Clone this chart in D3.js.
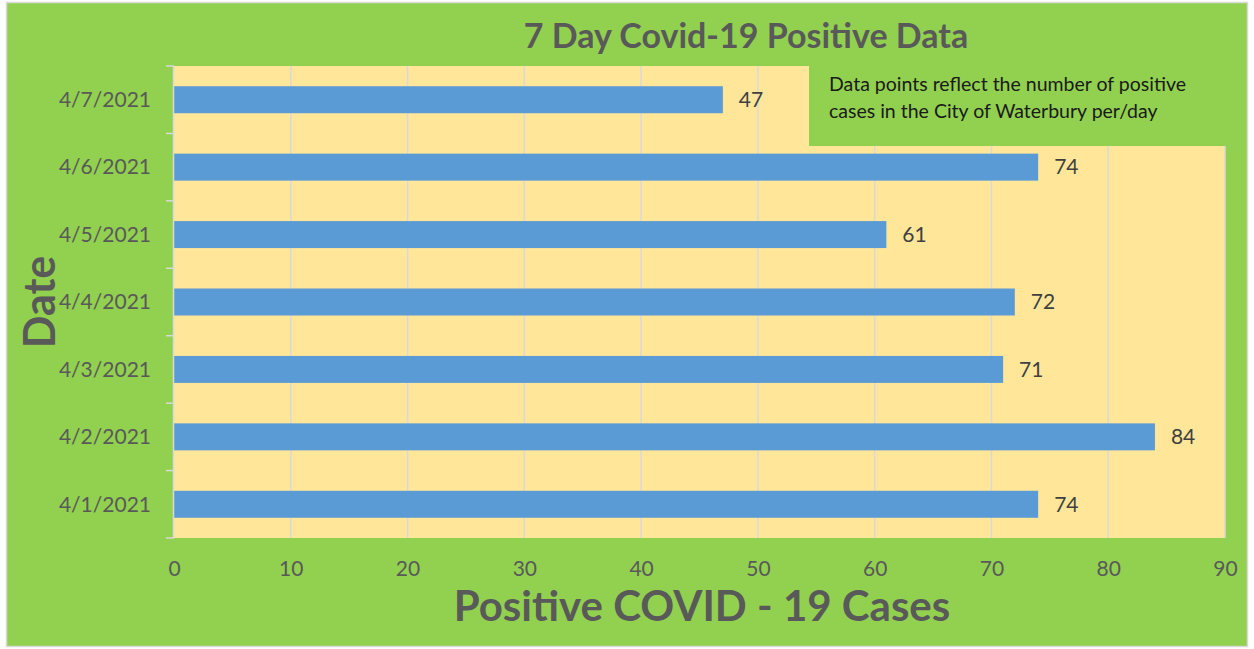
<!DOCTYPE html>
<html>
<head>
<meta charset="utf-8">
<title>7 Day Covid-19 Positive Data</title>
<style>
  body { margin: 0; background: #fff; }
  svg { display: block; font-family: Lato, "Open Sans", sans-serif; }
</style>
</head>
<body>
<svg id="chart" width="1254" height="649"></svg>
<script src="https://cdn.jsdelivr.net/npm/d3@7"></script>
<script>
// data
var dates = ['4/1/2021', '4/2/2021', '4/3/2021', '4/4/2021', '4/5/2021', '4/6/2021', '4/7/2021'];
var cases = [74, 84, 71, 72, 61, 74, 47];
var xTicks = [0, 10, 20, 30, 40, 50, 60, 70, 80, 90];
var noteLines = ['Data points reflect the number of positive', 'cases in the City of Waterbury per/day'];

var data = dates.map(function (d, i) { return {date: d, value: cases[i]}; });

var svg = d3.select('#chart');
var margin = {top: 66, right: 29, bottom: 111, left: 174};
var width = 1254 - margin.left - margin.right;
var height = 649 - margin.top - margin.bottom;

// chart background + border
svg.append('rect')
    .attr('x', 6.5).attr('y', 2.5)
    .attr('width', 1241).attr('height', 644)
    .attr('fill', '#92d050')
    .attr('stroke', '#d9d9d9').attr('stroke-width', 1.5);

var g = svg.append('g')
    .attr('transform', 'translate(' + margin.left + ',' + margin.top + ')');

var x = d3.scaleLinear().domain([0, 90]).range([0, width]);
var y = d3.scaleBand().domain(dates.slice().reverse()).range([0, height]).paddingInner(0.6).paddingOuter(0.3);

// plot area
g.append('rect')
    .attr('width', width).attr('height', height)
    .attr('fill', '#ffe699');

// gridlines
g.selectAll('.grid')
    .data(xTicks.slice(1))
    .enter().append('line')
    .attr('x1', d => x(d)).attr('x2', d => x(d))
    .attr('y1', 0).attr('y2', height)
    .attr('stroke', '#d9d9d9').attr('stroke-width', 1.5);

// bars
g.selectAll('.bar')
    .data(data)
    .enter().append('rect')
    .attr('x', 0)
    .attr('y', d => y(d.date))
    .attr('width', d => x(d.value))
    .attr('height', y.bandwidth())
    .attr('fill', '#5b9bd5');

// data labels
g.selectAll('.lbl')
    .data(data)
    .enter().append('text')
    .attr('x', d => x(d.value) + 16)
    .attr('y', d => y(d.date) + y.bandwidth() / 2)
    .attr('dy', '0.35em')
    .attr('font-size', 21)
    .attr('fill', '#404040')
    .text(d => d.value);

// x axis
var xAxis = g.append('g')
    .attr('transform', 'translate(0,' + height + ')')
    .call(d3.axisBottom(x).tickValues(xTicks).tickSize(0).tickPadding(23));
xAxis.select('.domain').remove();
xAxis.selectAll('text')
    .attr('font-family', 'Lato, "Open Sans", sans-serif')
    .attr('font-size', 21).attr('fill', '#595959');

// y axis: line + ticks at band boundaries
var step = y.step();
g.append('line')
    .attr('x1', -0.5).attr('x2', -0.5)
    .attr('y1', 0).attr('y2', height)
    .attr('stroke', '#d9d9d9').attr('stroke-width', 1.5);
g.selectAll('.ytick')
    .data(d3.range(dates.length + 1))
    .enter().append('line')
    .attr('x1', -8).attr('x2', 0)
    .attr('y1', i => i * step).attr('y2', i => i * step)
    .attr('stroke', '#d9d9d9').attr('stroke-width', 1.5);
g.selectAll('.ylabel')
    .data(dates)
    .enter().append('text')
    .attr('x', -23)
    .attr('y', d => y(d) + y.bandwidth() / 2)
    .attr('dy', '0.35em')
    .attr('text-anchor', 'end')
    .attr('font-size', 21)
    .attr('fill', '#595959')
    .text(d => d);

// note box
var note = svg.append('g').attr('transform', 'translate(809,66)');
note.append('rect')
    .attr('width', 417).attr('height', 80)
    .attr('fill', '#92d050');
note.selectAll('text')
    .data(noteLines)
    .enter().append('text')
    .attr('x', 20)
    .attr('y', (d, i) => 25 + i * 27)
    .attr('font-size', 19.5)
    .attr('fill', '#1a1a1a')
    .text(d => d);

// title
svg.append('text')
    .attr('x', 746).attr('y', 48)
    .attr('text-anchor', 'middle')
    .attr('font-size', 34).attr('font-weight', 'bold')
    .attr('fill', '#595959')
    .text('7 Day Covid-19 Positive Data');

// axis titles
svg.append('text')
    .attr('x', 702).attr('y', 621)
    .attr('text-anchor', 'middle')
    .attr('font-size', 42).attr('font-weight', 'bold')
    .attr('fill', '#595959')
    .text('Positive COVID - 19 Cases');

svg.append('text')
    .attr('transform', 'translate(55,302) rotate(-90)')
    .attr('text-anchor', 'middle')
    .attr('font-size', 43).attr('font-weight', 'bold')
    .attr('fill', '#595959')
    .text('Date');
</script>
</body>
</html>
